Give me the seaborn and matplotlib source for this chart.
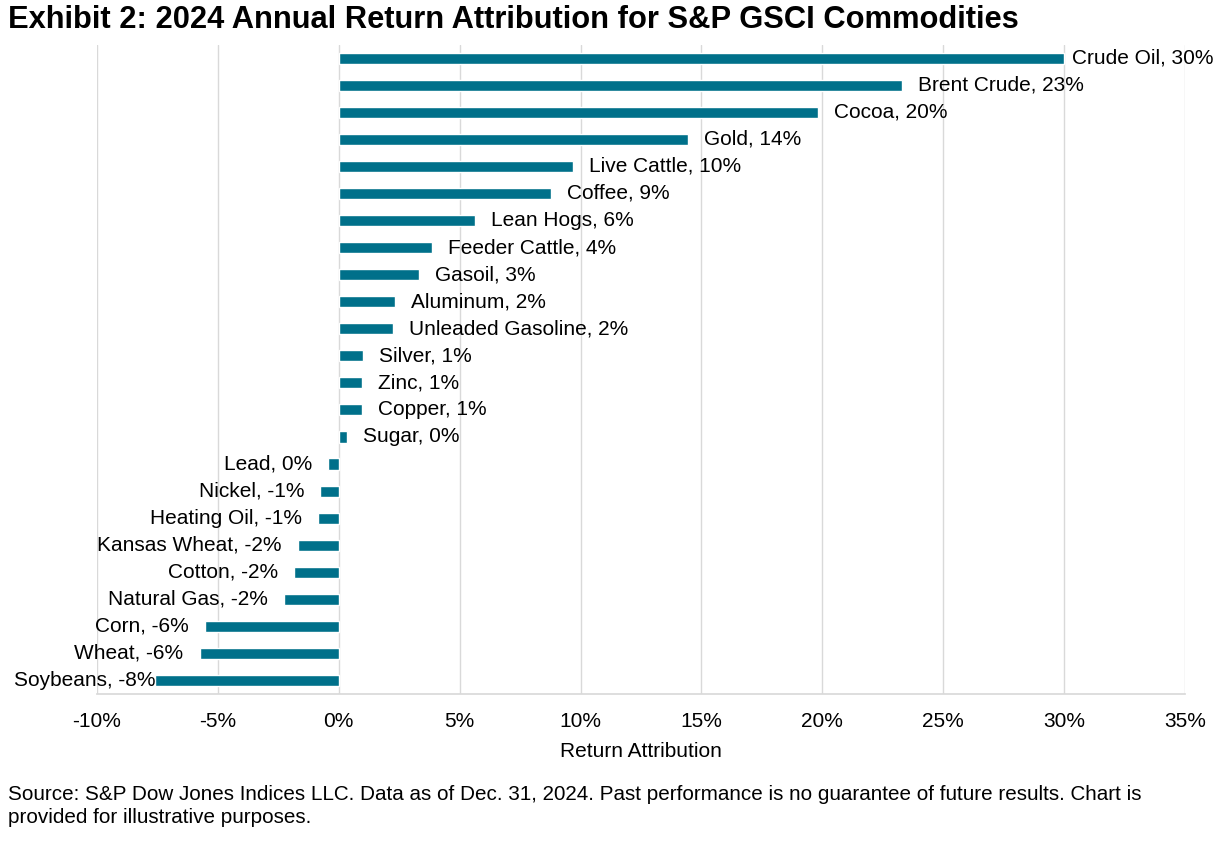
import numpy as np
import pandas as pd
import matplotlib
matplotlib.use("Agg")
import matplotlib.pyplot as plt
import seaborn as sns
from matplotlib.ticker import FuncFormatter


# ======================================================
# DATA
# ======================================================
commodities = [
    "Crude Oil", "Brent Crude", "Cocoa", "Gold", "Live Cattle", "Coffee",
    "Lean Hogs", "Feeder Cattle", "Gasoil", "Aluminum", "Unleaded Gasoline",
    "Silver", "Zinc", "Copper", "Sugar", "Lead", "Nickel", "Heating Oil",
    "Kansas Wheat", "Cotton", "Natural Gas", "Corn", "Wheat", "Soybeans",
]
attribution = [
    29.98, 23.31, 19.83, 14.45, 9.70, 8.78,
    5.64, 3.85, 3.31, 2.32, 2.24,
    0.99, 0.95, 0.95, 0.33, -0.43, -0.77, -0.85,
    -1.69, -1.85, -2.27, -5.55, -5.76, -7.62,
]
x_ticks = [-10, -5, 0, 5, 10, 15, 20, 25, 30, 35]

df = pd.DataFrame({"Commodity": commodities, "Attribution": attribution})


# ======================================================
# STYLE
# ======================================================
sns.set_theme(style="white")
plt.rcParams["font.family"] = ["Liberation Sans", "DejaVu Sans"]
plt.rcParams["text.color"] = "black"
plt.rcParams["axes.labelcolor"] = "black"

bar_color = "#00708A"
grid_color = "#D9D9D9"
fs = 15
DPI = 100
gap_pt = 16 * 72 / DPI   # 16 px gap between bar end and label


# ======================================================
# PLOT
# ======================================================
fig = plt.figure(figsize=(12.25, 8.51), dpi=DPI)
ax = fig.add_axes([0.0792, 0.1845, 0.8881, 0.7630])

sns.barplot(
    data=df,
    x="Attribution",
    y="Commodity",
    orient="h",
    color=bar_color,
    saturation=1,
    width=0.41,
    ax=ax,
)

ax.set_xlim(x_ticks[0], x_ticks[-1])
ax.set_xticks(x_ticks)
ax.xaxis.set_major_formatter(FuncFormatter(lambda v, _: f"{v:.0f}%"))
ax.tick_params(axis="x", labelsize=fs, length=0, pad=13, colors="black")
ax.set_yticks([])
ax.set_ylabel("")
ax.set_xlabel("Return Attribution", fontsize=fs, labelpad=8)

ax.grid(axis="x", color=grid_color, linewidth=1)
ax.set_axisbelow(True)
for side in ["top", "left", "right"]:
    ax.spines[side].set_visible(False)
ax.spines["bottom"].set_color(grid_color)

# data labels
labels = []
for i, (name, val) in enumerate(zip(commodities, attribution)):
    txt = f"{name}, {round(val)}%"
    if val >= 0:
        t = ax.annotate(txt, (val, i), xytext=(gap_pt, 0), textcoords="offset points",
                        ha="left", va="center", fontsize=fs)
    else:
        t = ax.annotate(txt, (val, i), xytext=(-gap_pt, 0), textcoords="offset points",
                        ha="right", va="center", fontsize=fs)
    labels.append(t)

# keep labels inside the chart area (like the original)
fig.canvas.draw()
renderer = fig.canvas.get_renderer()
W = fig.get_figwidth() * DPI
for t in labels:
    bb = t.get_window_extent(renderer)
    ox, oy = t.xyann
    if bb.x0 < 14:
        t.xyann = (ox + (14 - bb.x0) * 72 / DPI, oy)
    elif bb.x1 > W - 11:
        t.xyann = (ox - (bb.x1 - (W - 11)) * 72 / DPI, oy)


# ======================================================
# TITLE / FOOTER
# ======================================================
fig.text(0.0065, 0.976, "Exhibit 2: 2024 Annual Return Attribution for S&P GSCI Commodities",
         fontsize=22.2, fontweight="bold", ha="left", va="center")
fig.text(0.0065, 0.0525,
         "Source: S&P Dow Jones Indices LLC. Data as of Dec. 31, 2024. Past performance is no guarantee of future results. Chart is\n"
         "provided for illustrative purposes.",
         fontsize=14.9, ha="left", va="center", linespacing=1.25)

fig.savefig("out.png", dpi=DPI)
